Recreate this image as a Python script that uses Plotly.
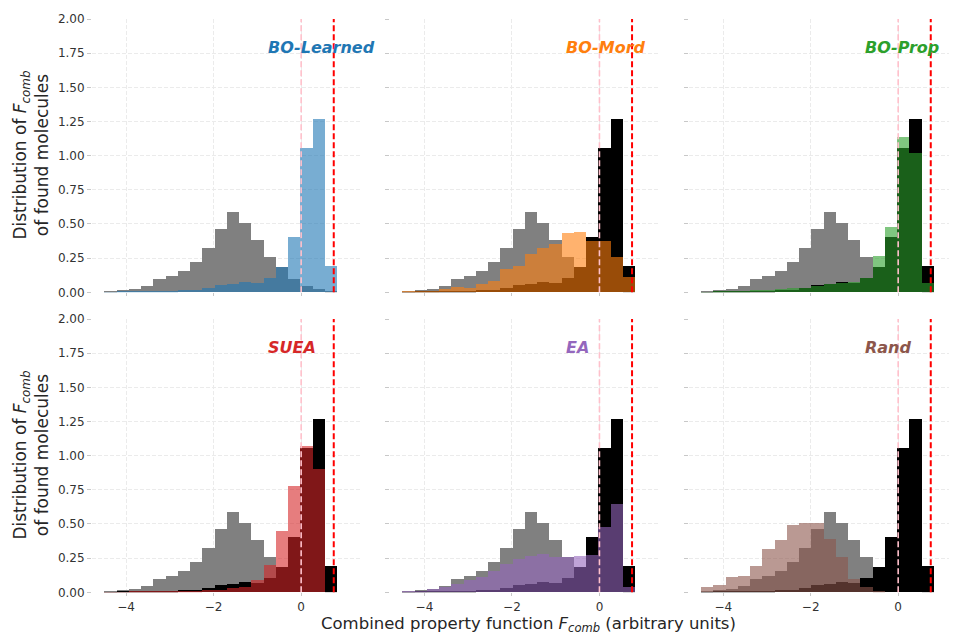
import plotly.graph_objects as go

# ---------------- data ----------------
bin_edges = [-4.50, -4.22, -3.94, -3.66, -3.38, -3.10, -2.82, -2.54, -2.26, -1.98,
             -1.70, -1.42, -1.14, -0.86, -0.58, -0.30, -0.02, 0.26, 0.54, 0.82]

all_molecules = [0.010, 0.020, 0.027, 0.046, 0.100, 0.122, 0.154, 0.224, 0.322, 0.461,
                 0.590, 0.510, 0.383, 0.261, 0.185, 0.095, 0.044, 0.022, 0.003]

bo_learned = [0.002, 0.003, 0.005, 0.007, 0.010, 0.012, 0.015, 0.020, 0.030, 0.050,
              0.060, 0.075, 0.068, 0.107, 0.183, 0.407, 1.054, 1.268, 0.190]
bo_mord = [0.005, 0.010, 0.012, 0.022, 0.037, 0.030, 0.061, 0.085, 0.168, 0.193,
           0.278, 0.327, 0.354, 0.432, 0.440, 0.376, 0.376, 0.256, 0.115]
bo_prop = [0.002, 0.005, 0.007, 0.010, 0.015, 0.017, 0.027, 0.032, 0.032, 0.046,
           0.059, 0.066, 0.076, 0.107, 0.268, 0.480, 1.134, 1.017, 0.070]
suea = [0.001, 0.002, 0.003, 0.004, 0.005, 0.006, 0.008, 0.010, 0.015, 0.020,
        0.030, 0.040, 0.090, 0.200, 0.450, 0.780, 1.070, 0.900, 0.000]
ea = [0.005, 0.010, 0.027, 0.037, 0.059, 0.090, 0.115, 0.159, 0.207, 0.246,
      0.268, 0.280, 0.256, 0.256, 0.266, 0.273, 0.480, 0.646, 0.037]
rand = [0.037, 0.054, 0.110, 0.120, 0.190, 0.315, 0.380, 0.490, 0.505, 0.510,
        0.388, 0.260, 0.100, 0.040, 0.005, 0.000, 0.000, 0.000, 0.000]

methods = ["BO-Learned", "BO-Mord", "BO-Prop", "SUEA", "EA", "Rand"]
method_values = [bo_learned, bo_mord, bo_prop, suea, ea, rand]
method_colors = ["#1f77b4", "#ff7f0e", "#2ca02c", "#d62728", "#9467bd", "#8c564b"]

reference_value = 0.0
best_value = 0.745

y_ticks = [0.0, 0.25, 0.5, 0.75, 1.0, 1.25, 1.5, 1.75, 2.0]
x_ticks = [-4, -2, 0]

# ---------------- figure ----------------
# the page body adds an 8px margin, so the figure is laid out in screen
# pixels minus that offset
OFF = 8
W, H = 957 - OFF, 635 - OFF
centers = [(a + b) / 2 for a, b in zip(bin_edges[:-1], bin_edges[1:])]
widths = [b - a for a, b in zip(bin_edges[:-1], bin_edges[1:])]


def px_x(s):
    return (s - OFF) / W


def px_y(s):
    return (H - (s - OFF)) / H


fig = go.Figure()

panel_left = [92, 390.3, 689.1]
panel_w = 268
row_dom = [[px_y(292.3), px_y(19)], [px_y(592.3), px_y(319)]]

font_family = "DejaVu Sans"
layout = dict()
shapes = []
annotations = []

for i, (name, vals, col) in enumerate(zip(methods, method_values, method_colors)):
    r, c = divmod(i, 3)
    ax = "" if i == 0 else str(i + 1)
    xref, yref = "x" + ax, "y" + ax
    fig.add_trace(go.Bar(x=centers, y=all_molecules, width=widths, marker_color="#808080",
                         marker_line_width=0, xaxis=xref, yaxis=yref, showlegend=False))
    if i != 0:
        fig.add_trace(go.Bar(x=centers, y=bo_learned, width=widths, marker_color="#000000",
                             marker_line_width=0, xaxis=xref, yaxis=yref, showlegend=False))
    fig.add_trace(go.Bar(x=centers, y=vals, width=widths, marker_color=col, opacity=0.6,
                         marker_line_width=0, xaxis=xref, yaxis=yref, showlegend=False))

    x0 = px_x(panel_left[c])
    x1 = min(px_x(panel_left[c] + panel_w), 1.0)
    layout["xaxis" + ax] = dict(
        domain=[x0, x1], range=[-4.78, 1.345], anchor=yref, automargin=False,
        tickvals=x_ticks, showticklabels=(r == 1),
        ticks="outside", ticklen=3, tickcolor="#c8c8c8", tickwidth=1,
        showgrid=True, gridcolor="#ebebeb", griddash="4px,2px", gridwidth=1,
        zeroline=False, showline=False,
        tickfont=dict(family=font_family, size=12, color="#333333"),
    )
    layout["yaxis" + ax] = dict(
        domain=row_dom[r], range=[0, 2.0], anchor=xref, automargin=False,
        tickvals=y_ticks, tickformat=".2f", showticklabels=(c == 0),
        ticks="outside", ticklen=4, tickcolor="#c8c8c8", tickwidth=1,
        showgrid=True, gridcolor="#ebebeb", griddash="4px,2px", gridwidth=1,
        zeroline=False, showline=False,
        tickfont=dict(family=font_family, size=12, color="#333333"),
    )
    shapes.append(dict(type="line", xref=xref, yref=yref + " domain", x0=reference_value,
                       x1=reference_value, y0=0, y1=1,
                       line=dict(color="#ffc0cb", width=1.6, dash="6px,3px")))
    shapes.append(dict(type="line", xref=xref, yref=yref + " domain", x0=best_value,
                       x1=best_value, y0=0, y1=1,
                       line=dict(color="#ff0000", width=2, dash="6px,3px")))
    annotations.append(dict(x=-0.8, y=1.795, xref=xref, yref=yref, text=name,
                            showarrow=False, xanchor="left", yanchor="middle",
                            font=dict(family=font_family, size=16, color=col,
                                      weight="bold", style="italic")))

sub = "<i>F</i><sub><i>comb</i></sub>"
for yc in [155.6, 455.6]:
    annotations.append(dict(x=px_x(31), y=px_y(yc), xref="paper", yref="paper",
                            text="Distribution of " + sub + "<br>of found molecules",
                            textangle=-90, showarrow=False, xanchor="center",
                            yanchor="middle", align="center",
                            font=dict(family=font_family, size=17, color="#262626")))
annotations.append(dict(x=px_x(528.5), y=px_y(624.5), xref="paper", yref="paper",
                        text="Combined property function " + sub + " (arbitrary units)",
                        showarrow=False, xanchor="center", yanchor="middle",
                        borderpad=0,
                        font=dict(family=font_family, size=16.5, color="#262626")))

fig.update_layout(
    width=W, height=H, barmode="overlay", bargap=0,
    margin=dict(l=0, r=0, t=0, b=0, autoexpand=False),
    paper_bgcolor="white", plot_bgcolor="white",
    shapes=shapes, annotations=annotations, showlegend=False,
    **layout,
)

fig.write_html("out.html")
